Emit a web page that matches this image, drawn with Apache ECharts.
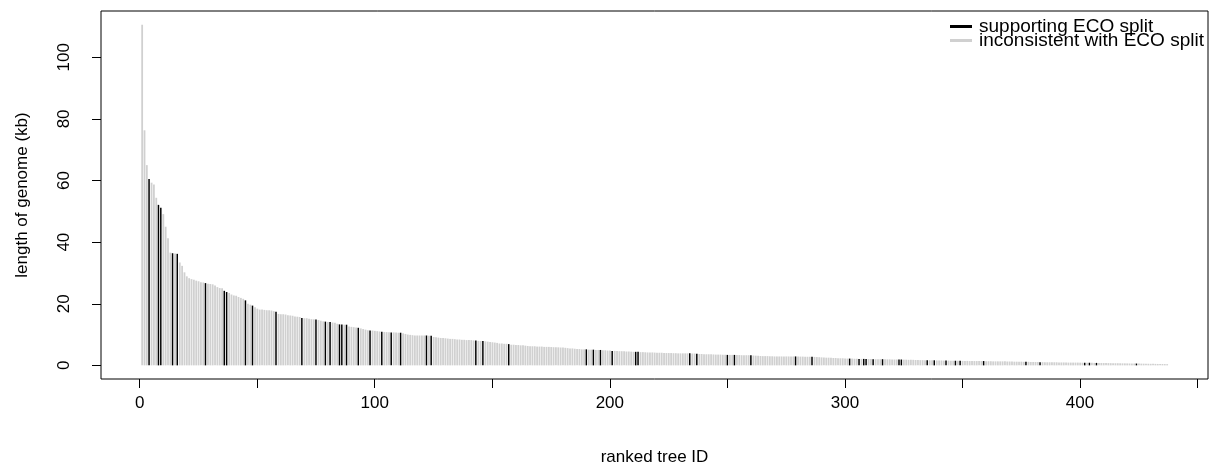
<!DOCTYPE html>
<html>
<head>
<meta charset="utf-8">
<script src="https://cdn.jsdelivr.net/npm/echarts@6/dist/echarts.min.js"></script>
<style>
html,body{margin:0;padding:0;background:#fff;}
#chart{width:1213px;height:475px;}
</style>
</head>
<body>
<div id="chart"></div>
<script>
// genome length (kb) by ranked tree ID (rank 1..437)
const lengthKb = [
110.6,76.3,65.0,60.5,59.3,58.7,54.4,52.1,51.2,49.1,
45.0,41.3,36.6,36.4,36.3,36.2,33.4,32.3,30.2,28.9,
28.3,28.0,27.8,27.5,27.3,27.0,26.9,26.7,26.5,26.4,
26.3,25.9,25.4,25.1,25.0,24.2,23.8,23.5,23.0,22.7,
22.6,22.2,21.9,21.6,21.1,20.0,19.7,19.4,18.9,18.4,
18.1,18.1,18.0,17.9,17.9,17.8,17.6,17.4,16.7,16.6,
16.6,16.5,16.3,16.2,16.1,15.9,15.8,15.7,15.4,15.3,
15.3,15.1,15.0,14.95,14.9,14.7,14.5,14.3,14.2,14.1,
14.1,13.9,13.8,13.5,13.3,13.3,13.2,13.2,12.6,12.5,
12.4,12.3,12.2,12.0,11.8,11.6,11.4,11.3,11.3,11.2,
11.1,11.0,10.9,10.85,10.8,10.75,10.7,10.7,10.65,10.6,
10.6,10.4,10.2,10.0,9.9,9.8,9.7,9.7,9.7,9.7,
9.7,9.7,9.6,9.6,9.2,9.1,9.0,8.9,8.9,8.8,
8.7,8.6,8.6,8.5,8.4,8.4,8.3,8.3,8.2,8.2,
8.2,8.1,8.1,7.95,7.9,7.9,7.8,7.7,7.6,7.5,
7.4,7.3,7.1,7.1,7.0,7.0,6.9,6.7,6.7,6.6,
6.6,6.5,6.5,6.4,6.3,6.2,6.2,6.2,6.1,6.1,
6.1,6.0,6.0,6.0,5.95,5.9,5.9,5.85,5.8,5.8,
5.7,5.6,5.5,5.5,5.4,5.3,5.3,5.2,5.2,5.2,
5.1,5.1,5.1,5.0,5.0,5.0,4.9,4.9,4.8,4.8,
4.7,4.7,4.65,4.6,4.6,4.55,4.5,4.5,4.45,4.4,
4.4,4.4,4.3,4.3,4.25,4.2,4.2,4.2,4.15,4.1,
4.1,4.1,4.05,4.0,4.0,4.0,3.95,3.95,3.9,3.9,
3.9,3.9,3.9,3.9,3.85,3.85,3.8,3.7,3.7,3.65,
3.6,3.6,3.6,3.55,3.5,3.5,3.5,3.45,3.45,3.4,
3.4,3.4,3.4,3.35,3.35,3.3,3.3,3.3,3.3,3.3,
3.2,3.15,3.1,3.05,3.0,3.0,3.0,2.95,2.95,2.9,
2.9,2.9,2.9,2.9,2.9,2.9,2.9,2.9,2.9,2.85,
2.85,2.85,2.8,2.8,2.8,2.8,2.75,2.7,2.65,2.6,
2.55,2.5,2.5,2.45,2.4,2.4,2.35,2.3,2.3,2.25,
2.2,2.2,2.2,2.15,2.15,2.1,2.1,2.1,2.1,2.05,
2.05,2.0,2.0,2.0,2.0,2.0,1.95,1.95,1.95,1.9,
1.9,1.9,1.9,1.9,1.85,1.85,1.8,1.8,1.8,1.75,
1.75,1.7,1.7,1.7,1.7,1.65,1.65,1.65,1.6,1.6,
1.6,1.55,1.55,1.55,1.5,1.5,1.5,1.5,1.5,1.45,
1.45,1.45,1.4,1.4,1.4,1.4,1.4,1.4,1.4,1.35,
1.35,1.35,1.3,1.3,1.3,1.3,1.3,1.3,1.25,1.25,
1.25,1.2,1.2,1.2,1.2,1.15,1.15,1.15,1.1,1.1,
1.1,1.1,1.05,1.05,1.05,1.0,1.0,1.0,1.0,1.0,
0.95,0.95,0.95,0.95,0.9,0.9,0.9,0.9,0.9,0.88,
0.86,0.85,0.85,0.85,0.82,0.8,0.8,0.78,0.78,0.76,
0.75,0.74,0.72,0.7,0.7,0.7,0.68,0.66,0.65,0.64,
0.62,0.6,0.6,0.6,0.58,0.56,0.55,0.54,0.52,0.5,
0.5,0.48,0.46,0.45,0.44,0.42,0.4
];

// ranks whose tree supports the ECO split (black); all others inconsistent (grey)
const supportingRanks = [4,8,9,14,16,28,36,37,45,48,58,69,75,79,81,85,86,88,93,98,
103,107,111,122,124,143,146,157,190,193,196,201,211,212,234,237,250,253,260,
279,286,302,306,308,309,312,316,323,324,335,338,343,347,349,359,377,383,
402,404,407,424];

const seriesNames = ['supporting ECO split', 'inconsistent with ECO split'];
const xTicks = [0,50,100,150,200,250,300,350,400,450];
const xLabels = [0,100,200,300,400];
const yTicks = [0,20,40,60,80,100];

const FONT = '"Liberation Sans", Arial, Helvetica, sans-serif';
const AXFS = 17;
const n = lengthKb.length;
const ymax = Math.max.apply(null, lengthKb);
const xMin = 1 - 0.04 * (n - 1), xMax = n + 0.04 * (n - 1);
const yMin = -0.04 * ymax, yMax = ymax * 1.04;

const supSet = new Set(supportingRanks);
const blackData = [], greyData = [];
lengthKb.forEach((v, i) => {
  const r = i + 1;
  if (supSet.has(r)) blackData.push([r, v]); else greyData.push([r, v]);
});

const chart = echarts.init(document.getElementById('chart'), null, {renderer: 'canvas'});
chart.setOption({
  animation: false,
  backgroundColor: '#ffffff',
  textStyle: {fontFamily: FONT},
  grid: {left: 101, right: 5, top: 11, bottom: 96, show: true, borderColor: '#000', borderWidth: 1, backgroundColor: 'transparent', containLabel: false},
  legend: {
    orient: 'vertical', left: 950, top: 17, itemGap: -5, itemWidth: 22, itemHeight: 3, icon: 'rect',
    padding: 0,
    data: [seriesNames[0], seriesNames[1]],
    textStyle: {fontFamily: FONT, fontSize: 19, color: '#000', lineHeight: 14, padding: [0,0,0,2]}
  },
  xAxis: {
    type: 'value', min: xMin, max: xMax,
    name: 'ranked tree ID', nameLocation: 'middle', nameGap: 70,
    nameTextStyle: {fontFamily: FONT, fontSize: AXFS, color: '#000'},
    axisLine: {show: false, onZero: false},
    axisTick: {show: true, inside: false, length: 9, customValues: xTicks, lineStyle: {color: '#000'}},
    axisLabel: {customValues: xLabels, margin: 16, fontFamily: FONT, fontSize: AXFS, color: '#000'},
    splitLine: {show: false}
  },
  yAxis: {
    type: 'value', min: yMin, max: yMax,
    name: 'length of genome (kb)', nameLocation: 'middle', nameGap: 70,
    nameTextStyle: {fontFamily: FONT, fontSize: AXFS, color: '#000'},
    axisLine: {show: false, onZero: false},
    axisTick: {show: true, inside: false, length: 9, customValues: yTicks, lineStyle: {color: '#000'}},
    axisLabel: {customValues: yTicks, rotate: 90, margin: 28, fontFamily: FONT, fontSize: AXFS, color: '#000'},
    splitLine: {show: false}
  },
  series: [
    {name: seriesNames[1], type: 'bar', data: greyData, barWidth: 1.8, barGap: '-100%',
     itemStyle: {color: '#d0d0d0'}, silent: true},
    {name: seriesNames[0], type: 'bar', data: blackData, barWidth: 1.5, barGap: '-100%',
     itemStyle: {color: '#000000'}, silent: true, z: 3}
  ]
});
</script>
</body>
</html>
